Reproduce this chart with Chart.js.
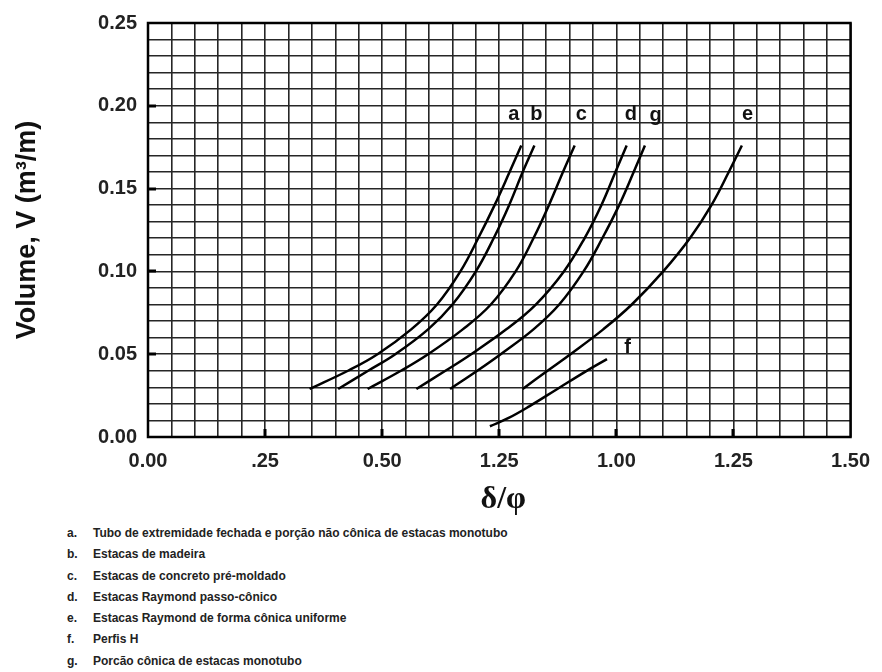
<!DOCTYPE html>
<html>
<head>
<meta charset="utf-8">
<script src="https://cdn.jsdelivr.net/npm/chart.js@4.4.1/dist/chart.umd.min.js"></script>
<style>
  body { margin: 0; background: #fff; }
  #wrap { position: relative; width: 882px; height: 672px; }
  #notes { position: absolute; left: 0; top: 523px; font: bold 12px "Liberation Sans", Arial, sans-serif; color: #222; }
  #notes div { height: 21.3px; line-height: 21.3px; white-space: nowrap; }
  #notes span { display: inline-block; width: 26px; margin-left: 67px; }
</style>
</head>
<body>
<div id="wrap">
  <canvas id="volChart" width="882" height="520"></canvas>
  <div id="notes"></div>
</div>
<script>
const volLevels = [0.029, 0.04, 0.05, 0.065, 0.08, 0.10, 0.12, 0.14, 0.16, 0.176];

// delta/phi for each curve at those volume levels
const curveA = [0.345, 0.427, 0.490, 0.562, 0.617, 0.667, 0.705, 0.740, 0.772, 0.797];
const curveB = [0.406, 0.470, 0.528, 0.598, 0.650, 0.700, 0.738, 0.771, 0.800, 0.825];
const curveC = [0.469, 0.540, 0.598, 0.672, 0.732, 0.785, 0.823, 0.856, 0.886, 0.911];
const curveD = [0.573, 0.635, 0.690, 0.765, 0.828, 0.888, 0.932, 0.968, 0.998, 1.022];
const curveG = [0.645, 0.703, 0.753, 0.823, 0.878, 0.930, 0.970, 1.006, 1.037, 1.061];
const curveE = [0.800, 0.853, 0.902, 0.972, 1.033, 1.100, 1.157, 1.203, 1.240, 1.268];

// curve f (H piles) is shorter
const curveFx = [0.730, 0.770, 0.814, 0.874, 0.934, 0.980];
const curveFy = [0.0065, 0.0115, 0.0185, 0.029, 0.0395, 0.047];

// letters next to curves (data units)
const tagNames = ['a', 'b', 'c', 'd', 'g', 'e', 'f'];
const tagX = [0.781, 0.829, 0.925, 1.031, 1.084, 1.280, 1.024];
const tagY = [0.195, 0.195, 0.195, 0.195, 0.194, 0.195, 0.054];

const xTickLabels = ['0.00', '.25', '0.50', '1.25', '1.00', '1.25', '1.50'];

const noteLetters = ['a.', 'b.', 'c.', 'd.', 'e.', 'f.', 'g.'];
const noteTexts = [
  'Tubo de extremidade fechada e porção não cônica de estacas monotubo',
  'Estacas de madeira',
  'Estacas de concreto pré-moldado',
  'Estacas Raymond passo-cônico',
  'Estacas Raymond de forma cônica uniforme',
  'Perfis H',
  'Porcão cônica de estacas monotubo'
];

function pts(xs, ys) {
  return xs.map((x, i) => ({ x: x, y: ys[i] }));
}

function curve(xs, ys) {
  return {
    data: pts(xs, ys),
    showLine: true,
    borderColor: '#000',
    borderWidth: 2.5,
    pointRadius: 0,
    tension: 0.4,
    fill: false
  };
}

// frame, inner tick marks and curve letters
const extras = {
  id: 'extras',
  afterDatasetsDraw(chart) {
    const { ctx, chartArea: a, scales: { x, y } } = chart;
    ctx.save();
    ctx.strokeStyle = '#000';
    ctx.lineWidth = 3;
    ctx.lineCap = 'butt';
    for (let v = 0.05; v < 0.25; v += 0.05) {
      const py = Math.round(y.getPixelForValue(v));
      ctx.beginPath(); ctx.moveTo(a.left, py); ctx.lineTo(a.left + 8, py); ctx.stroke();
    }
    for (let v = 0.25; v < 1.5; v += 0.25) {
      const px = Math.round(x.getPixelForValue(v));
      ctx.beginPath(); ctx.moveTo(px, a.bottom); ctx.lineTo(px, a.bottom - 8); ctx.stroke();
    }
    ctx.lineWidth = 2.5;
    ctx.strokeRect(a.left, a.top, a.right - a.left, a.bottom - a.top);

    ctx.fillStyle = '#111';
    ctx.font = 'bold 20px "Liberation Sans", Arial, sans-serif';
    ctx.textAlign = 'center';
    ctx.textBaseline = 'middle';
    tagNames.forEach((t, i) => {
      ctx.fillText(t, x.getPixelForValue(tagX[i]), y.getPixelForValue(tagY[i]));
    });
    ctx.restore();
  }
};

const ctx = document.getElementById('volChart').getContext('2d');
const volChart = new Chart(ctx, {
  type: 'scatter',
  data: {
    datasets: [
      curve(curveA, volLevels),
      curve(curveB, volLevels),
      curve(curveC, volLevels),
      curve(curveD, volLevels),
      curve(curveG, volLevels),
      curve(curveE, volLevels),
      curve(curveFx, curveFy)
    ]
  },
  options: {
    responsive: false,
    animation: false,
    layout: { padding: { top: 19, right: 24, left: 0, bottom: 0 } },
    plugins: { legend: { display: false }, tooltip: { enabled: false } },
    scales: {
      x: {
        type: 'linear',
        min: 0,
        max: 1.5,
        afterFit(scale) { scale.height = 83; },
        grid: { color: '#262626', lineWidth: 1.6, drawTicks: false },
        border: { display: false },
        ticks: {
          stepSize: 0.05,
          autoSkip: false,
          maxRotation: 0,
          padding: 12,
          color: '#222',
          font: { family: '"Liberation Sans", Arial, sans-serif', size: 20, weight: 'bold' },
          callback(v) {
            const k = Math.round(v * 100);
            return k % 25 === 0 ? xTickLabels[k / 25] : '';
          }
        },
        title: {
          display: true,
          text: ' δ/φ',
          color: '#111',
          padding: { top: 0, bottom: 1 },
          font: { family: '"Liberation Serif", "Times New Roman", serif', size: 32, weight: 'bold' }
        }
      },
      y: {
        type: 'linear',
        min: 0,
        max: 0.25,
        afterFit(scale) { scale.width = 148; },
        grid: { color: '#262626', lineWidth: 1.6, drawTicks: false },
        border: { display: false },
        ticks: {
          stepSize: 0.01,
          autoSkip: false,
          padding: 11,
          color: '#222',
          font: { family: '"Liberation Sans", Arial, sans-serif', size: 20, weight: 'bold' },
          callback(v) {
            const k = Math.round(v * 100);
            return k % 5 === 0 ? (k / 100).toFixed(2) : '';
          }
        },
        title: {
          display: true,
          text: 'Volume, V (m³/m)',
          color: '#111',
          padding: { top: 11, bottom: 0 },
          font: { family: '"Liberation Sans", Arial, sans-serif', size: 27, weight: 'bold' }
        }
      }
    }
  },
  plugins: [extras]
});

const notes = document.getElementById('notes');
noteLetters.forEach((l, i) => {
  const row = document.createElement('div');
  const s = document.createElement('span');
  s.textContent = l;
  row.appendChild(s);
  row.appendChild(document.createTextNode(noteTexts[i]));
  notes.appendChild(row);
});
</script>
</body>
</html>
